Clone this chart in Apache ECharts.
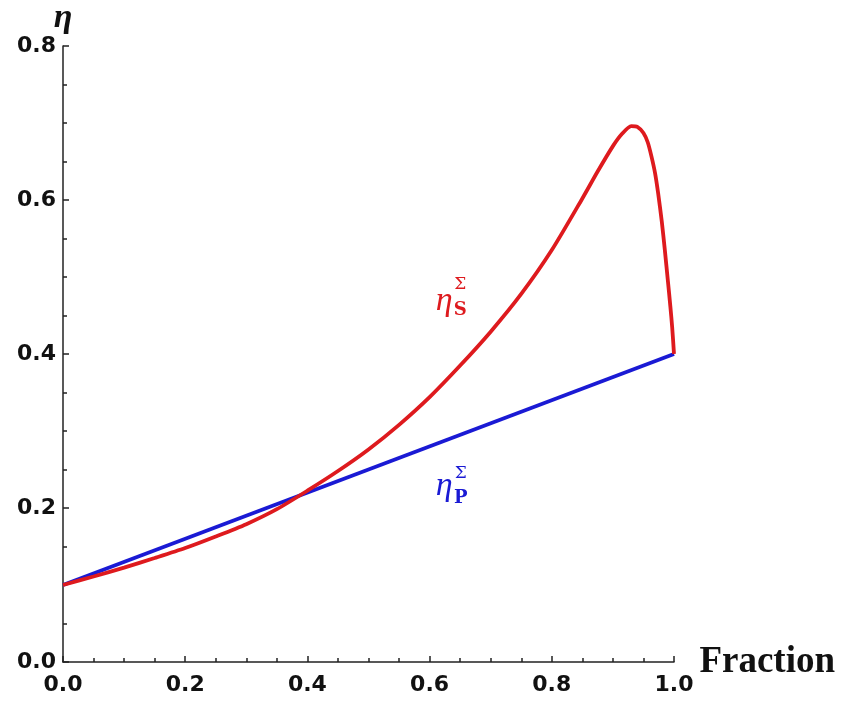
<!DOCTYPE html>
<html>
<head>
<meta charset="utf-8">
<script src="https://cdn.jsdelivr.net/npm/echarts@6/dist/echarts.min.js"></script>
<style>html,body{margin:0;padding:0;background:#fff}#c{width:843px;height:701px}</style>
</head>
<body>
<div id="c"></div>
<script>
// Data
var fractionS = [0, 0.05, 0.1, 0.15, 0.2, 0.25, 0.3, 0.35, 0.4, 0.45, 0.5, 0.55, 0.6, 0.65, 0.7, 0.75, 0.8, 0.85, 0.875, 0.9, 0.915, 0.93, 0.94, 0.95, 0.957, 0.963, 0.969, 0.974, 0.98, 0.985, 0.99, 0.994, 0.997, 1.0];
var etaS      = [0.1, 0.111, 0.1225, 0.135, 0.148, 0.163, 0.179, 0.1985, 0.2225, 0.248, 0.276, 0.308, 0.344, 0.385, 0.429, 0.478, 0.535, 0.602, 0.637, 0.670, 0.686, 0.696, 0.695, 0.687, 0.675, 0.657, 0.635, 0.609, 0.572, 0.535, 0.495, 0.462, 0.435, 0.4];
var fractionP = [0, 1.0];
var etaP      = [0.1, 0.4];
var xTicks = [0, 0.2, 0.4, 0.6, 0.8, 1.0];
var yTicks = [0, 0.2, 0.4, 0.6, 0.8];
var labelS = {eta: [0.624, 0.469], idx: [0.650, 0.474]};
var labelP = {eta: [0.624, 0.229], idx: [0.651, 0.229]};

function pairs(xs, ys){ return xs.map(function(x,i){ return [x, ys[i]]; }); }

var redC = '#de1a1e', blueC = '#1a1ad4';
var tickFont = {fontFamily: 'DejaVu Sans', fontWeight: 'bold', fontSize: 22, color: '#111'};

function lbl(coord, text, color, rich){
  return {coord: coord, symbol: 'circle', symbolSize: 1, itemStyle: {color: 'rgba(0,0,0,0)'},
    label: {show: true, position: 'inside', formatter: text, color: color, rich: rich}};
}
var richEta = {
  e: {fontFamily: 'Liberation Serif', fontStyle: 'italic', fontSize: 34, lineHeight: 34},
  sup: {fontFamily: 'DejaVu Serif', fontSize: 17, lineHeight: 26},
  sub: {fontFamily: 'DejaVu Serif', fontWeight: 'bold', fontSize: 18, lineHeight: 24}
};

var chart = echarts.init(document.getElementById('c'));
chart.setOption({
  animation: false,
  grid: {left: 63, right: 169, top: 46, bottom: 39, containLabel: false},
  xAxis: {
    type: 'value', min: xTicks[0], max: xTicks[xTicks.length-1], interval: 0.2,
    name: 'Fraction', nameLocation: 'end', nameGap: 22,
    nameTextStyle: {fontFamily: 'Liberation Serif', fontWeight: 'bold', fontSize: 37, color: '#111', verticalAlign: 'middle', align: 'left'},
    axisLine: {show: true, onZero: false, lineStyle: {color: '#222', width: 1.5}},
    axisTick: {show: true, inside: true, length: 6, lineStyle: {color: '#222', width: 1.5}},
    minorTick: {show: true, splitNumber: 4, length: 4, lineStyle: {color: '#222', width: 1.5}},
    splitLine: {show: false},
    axisLabel: Object.assign({margin: 12, formatter: function(v){ return v.toFixed(1); }}, tickFont)
  },
  yAxis: {
    type: 'value', min: yTicks[0], max: yTicks[yTicks.length-1], interval: 0.2,
    name: 'η', nameLocation: 'end', nameGap: 6,
    nameTextStyle: {fontFamily: 'Liberation Serif', fontStyle: 'italic', fontWeight: 'bold', fontSize: 34, color: '#111', align: 'center'},
    axisLine: {show: true, onZero: false, lineStyle: {color: '#222', width: 1.5}},
    axisTick: {show: true, inside: true, length: 6, lineStyle: {color: '#222', width: 1.5}},
    minorTick: {show: true, splitNumber: 4, length: 4, lineStyle: {color: '#222', width: 1.5}},
    splitLine: {show: false},
    axisLabel: Object.assign({margin: 7, formatter: function(v){ return v.toFixed(1); }}, tickFont)
  },
  series: [
    {
      type: 'line', data: pairs(fractionP, etaP), showSymbol: false, z: 2,
      lineStyle: {color: blueC, width: 3.8},
      markPoint: {silent: true, data: [
        lbl(labelP.eta, '{e|η}', blueC, richEta),
        lbl(labelP.idx, '{sup|Σ}\n{sub|P}', blueC, richEta)
      ]}
    },
    {
      type: 'line', data: pairs(fractionS, etaS), showSymbol: false, smooth: 0.25, z: 3,
      lineStyle: {color: redC, width: 3.8},
      markPoint: {silent: true, data: [
        lbl(labelS.eta, '{e|η}', redC, richEta),
        lbl(labelS.idx, '{sup|Σ}\n{sub|S}', redC, richEta)
      ]}
    }
  ]
});
</script>
</body>
</html>
